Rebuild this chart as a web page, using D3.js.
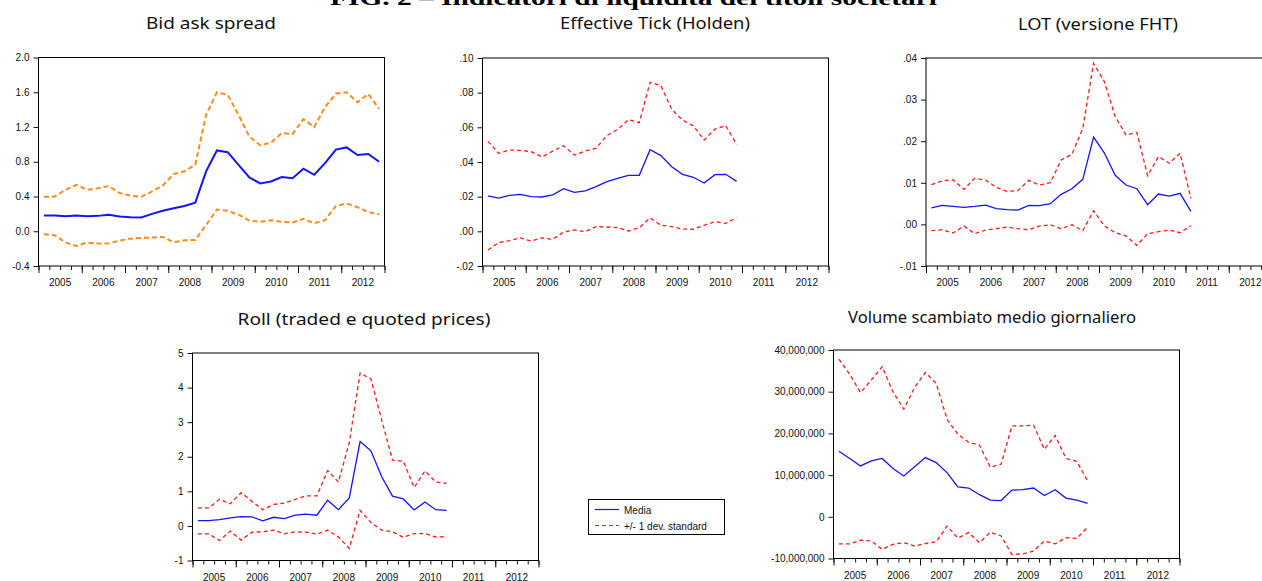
<!DOCTYPE html>
<html>
<head>
<meta charset="utf-8">
<script src="https://cdn.jsdelivr.net/npm/d3@7"></script>
<style>
  body { margin: 0; background: #fff; }
  svg { display: block; }
  .tick text { font-family: "Liberation Sans", Arial, sans-serif; font-size: 10px; fill: #111; }
  .tick line { stroke: #111; }
</style>
</head>
<body>
<svg id="chart" width="1262" height="581"></svg>
<script>
// Quarterly observations, 2005Q1 onwards
const years = ["2005", "2006", "2007", "2008", "2009", "2010", "2011", "2012"];

// Bid ask spread (2005Q1–2012Q4)
const bidAskMean  = [0.18, 0.18, 0.173, 0.18, 0.173, 0.177, 0.19, 0.17, 0.16, 0.158, 0.20, 0.235, 0.265, 0.29, 0.33, 0.69,
                     0.93, 0.91, 0.765, 0.62, 0.55, 0.573, 0.623, 0.61, 0.72, 0.65, 0.785, 0.94, 0.965, 0.877, 0.89, 0.80];
const bidAskUpper = [0.396, 0.40, 0.477, 0.535, 0.477, 0.496, 0.52, 0.44, 0.41, 0.396, 0.458, 0.527, 0.658, 0.69, 0.765, 1.34,
                     1.60, 1.57, 1.34, 1.09, 0.99, 1.02, 1.13, 1.12, 1.29, 1.20, 1.43, 1.585, 1.60, 1.485, 1.58, 1.41];
const bidAskLower = [-0.035, -0.046, -0.13, -0.17, -0.13, -0.142, -0.138, -0.108, -0.085, -0.077, -0.073, -0.065, -0.127, -0.104, -0.10, 0.073,
                     0.25, 0.235, 0.19, 0.123, 0.11, 0.127, 0.108, 0.10, 0.142, 0.092, 0.127, 0.29, 0.32, 0.277, 0.22, 0.196];
const bidAskTicks = [-0.4, 0.0, 0.4, 0.8, 1.2, 1.6, 2.0];

// Effective Tick (Holden) (2005Q1–2010Q4)
const tickMean  = [0.0204, 0.0192, 0.0208, 0.0213, 0.0200, 0.0198, 0.0210, 0.0246, 0.0225, 0.0233, 0.0258, 0.0287,
                   0.0306, 0.0323, 0.0323, 0.0471, 0.0437, 0.0373, 0.0329, 0.0312, 0.0279, 0.0327, 0.0329, 0.0288];
const tickUpper = [0.0519, 0.0450, 0.0469, 0.0467, 0.0460, 0.0429, 0.0463, 0.0494, 0.0440, 0.0463, 0.0479, 0.0552,
                   0.0588, 0.0644, 0.0627, 0.0860, 0.0840, 0.0704, 0.0642, 0.0608, 0.0527, 0.0590, 0.0610, 0.0502];
const tickLower = [-0.0108, -0.0065, -0.0054, -0.0038, -0.0056, -0.0038, -0.0046, -0.0004, 0.0008, -0.0002, 0.0027, 0.0025,
                   0.0021, 0.0002, 0.0021, 0.0077, 0.0035, 0.0027, 0.0013, 0.0012, 0.0035, 0.0056, 0.0046, 0.0079];
const tickTicks = [-0.02, 0.00, 0.02, 0.04, 0.06, 0.08, 0.10];

// LOT (versione FHT) (2005Q1–2011Q1)
const lotMean  = [0.0040, 0.00457, 0.00433, 0.0041, 0.00433, 0.00465, 0.00377, 0.00353, 0.00345, 0.00457, 0.0045, 0.00497,
                  0.00722, 0.00858, 0.01083, 0.0210, 0.01716, 0.01179, 0.00946, 0.00858, 0.00473, 0.0073, 0.00682, 0.00746, 0.00313];
const lotUpper = [0.00954, 0.01042, 0.01075, 0.00842, 0.01107, 0.01067, 0.0089, 0.00794, 0.0081, 0.01059, 0.00946, 0.01002,
                  0.01548, 0.01684, 0.0231, 0.0387, 0.0343, 0.0259, 0.0215, 0.0221, 0.0117, 0.0163, 0.0147, 0.0171, 0.00625];
const lotLower = [-0.00152, -0.00128, -0.00208, -0.0004, -0.00224, -0.00136, -0.00104, -0.00064, -0.00104, -0.00128, -0.0004, -0.00008,
                  -0.00104, -0.00008, -0.00152, 0.00329, -0.0004, -0.002, -0.00273, -0.00505, -0.00224, -0.00176, -0.00136, -0.002, -0.00032];
const lotTicks = [-0.01, 0.00, 0.01, 0.02, 0.03, 0.04];

// Roll (traded e quoted prices) (2005Q1–2010Q4)
const rollMean  = [0.154, 0.154, 0.183, 0.231, 0.27, 0.26, 0.145, 0.25, 0.212, 0.31, 0.34, 0.31,
                   0.743, 0.47, 0.81, 2.44, 2.17, 1.42, 0.86, 0.78, 0.46, 0.69, 0.47, 0.45];
const rollUpper = [0.52, 0.52, 0.77, 0.64, 0.96, 0.71, 0.47, 0.62, 0.66, 0.77, 0.87, 0.87,
                   1.60, 1.27, 2.41, 4.42, 4.25, 3.06, 1.90, 1.87, 1.11, 1.59, 1.27, 1.23];
const rollLower = [-0.23, -0.23, -0.42, -0.15, -0.41, -0.18, -0.17, -0.12, -0.23, -0.17, -0.18, -0.24,
                   -0.125, -0.32, -0.65, 0.45, 0.10, -0.125, -0.17, -0.33, -0.22, -0.22, -0.32, -0.31];
const rollTicks = [-1, 0, 1, 2, 3, 4, 5];

// Volume scambiato medio giornaliero (2005Q1–2010Q4)
const volMean  = [15.7e6, 14.0e6, 12.2e6, 13.4e6, 14.0e6, 11.6e6, 9.8e6, 12.0e6, 14.2e6, 13.0e6, 10.6e6, 7.2e6,
                  6.9e6, 5.3e6, 4.0e6, 3.9e6, 6.4e6, 6.5e6, 6.9e6, 5.1e6, 6.5e6, 4.5e6, 4.0e6, 3.2e6];
const volUpper = [37.8e6, 34.2e6, 29.8e6, 32.8e6, 36.0e6, 30.0e6, 25.8e6, 31.0e6, 34.6e6, 32.0e6, 23.4e6, 19.8e6,
                  17.9e6, 17.2e6, 11.9e6, 12.6e6, 21.8e6, 21.8e6, 22.0e6, 16.2e6, 19.5e6, 14.0e6, 13.3e6, 8.6e6];
const volLower = [-6.5e6, -6.5e6, -5.6e6, -5.8e6, -7.8e6, -6.6e6, -6.2e6, -7.0e6, -6.4e6, -6.0e6, -2.2e6, -5.1e6,
                  -3.8e6, -6.2e6, -3.7e6, -4.6e6, -9.0e6, -8.9e6, -8.2e6, -5.8e6, -6.5e6, -5.0e6, -5.2e6, -2.5e6];
const volTicks = [-10e6, 0, 10e6, 20e6, 30e6, 40e6];

const legendLabels = ["Media", "+/- 1 dev. standard"];

// Number formats with an ASCII hyphen for negatives
const loc = d3.formatLocale({ decimal: ".", thousands: ",", grouping: [3], currency: ["", ""], minus: "-" });
const fmt1 = loc.format(".1f");
const fmtDot = v => loc.format(".2f")(v).replace("0.", ".");
const fmtInt = loc.format("d");
const fmtComma = loc.format(",");

const NQ = years.length * 4;   // quarters on the time axis

const panels = [
  { title: "Bid ask spread", mean: bidAskMean, upper: bidAskUpper, lower: bidAskLower,
    domain: [-0.4, 2.0], ticks: bidAskTicks, fmt: fmt1,
    left: 38.5, top: 57.5, width: 346, height: 208.5,
    titleX: 211, titleY: 29, titleLen: 130,
    meanColor: "#1414ff", bandColor: "#ff8c1a", lineW: 2, dash: "5,3" },
  { title: "Effective Tick (Holden)", mean: tickMean, upper: tickUpper, lower: tickLower,
    domain: [-0.02, 0.10], ticks: tickTicks, fmt: fmtDot,
    left: 482.5, top: 58, width: 346, height: 208,
    titleX: 655, titleY: 29, titleLen: 190,
    meanColor: "#1414ff", bandColor: "#ff1a1a", lineW: 1.3, dash: "4,3" },
  { title: "LOT (versione FHT)", mean: lotMean, upper: lotUpper, lower: lotLower,
    domain: [-0.01, 0.04], ticks: lotTicks, fmt: fmtDot,
    left: 926, top: 58, width: 346, height: 208,
    titleX: 1098, titleY: 29.5, titleLen: 160,
    meanColor: "#1414ff", bandColor: "#ff1a1a", lineW: 1.3, dash: "4,3" },
  { title: "Roll (traded e quoted prices)", mean: rollMean, upper: rollUpper, lower: rollLower,
    domain: [-1, 5], ticks: rollTicks, fmt: fmtInt,
    left: 192.5, top: 353, width: 346, height: 207.5,
    titleX: 364, titleY: 324.5, titleLen: 253,
    meanColor: "#1414ff", bandColor: "#ff1a1a", lineW: 1.3, dash: "4,3" },
  { title: "Volume scambiato medio giornaliero", mean: volMean, upper: volUpper, lower: volLower,
    domain: [-10e6, 40e6], ticks: volTicks, fmt: fmtComma,
    left: 833.5, top: 350, width: 346, height: 208.5,
    titleX: 992, titleY: 322.5, titleLen: 288,
    meanColor: "#1414ff", bandColor: "#ff1a1a", lineW: 1.3, dash: "4,3" }
];

const svg = d3.select("#chart");

// Figure heading (sits partly above the top edge)
svg.append("text")
  .attr("x", 330).attr("y", 4.5)
  .attr("textLength", 607).attr("lengthAdjust", "spacingAndGlyphs")
  .style("font-family", "'Liberation Serif', 'Times New Roman', serif")
  .style("font-weight", "bold").style("font-size", "22px").style("fill", "#000")
  .text("FIG. 2 \u2013 Indicatori di liquidit\u00e0 dei titoli societari");

panels.forEach(p => {
  const g = svg.append("g");
  const x = d3.scaleLinear().domain([0, NQ]).range([p.left, p.left + p.width]);
  const y = d3.scaleLinear().domain(p.domain).range([p.top + p.height, p.top]);
  const bottom = p.top + p.height;

  // panel title
  g.append("text")
    .attr("x", p.titleX).attr("y", p.titleY)
    .attr("text-anchor", "middle")
    .attr("textLength", p.titleLen).attr("lengthAdjust", "spacingAndGlyphs")
    .style("font-family", "'Noto Sans', 'DejaVu Sans', sans-serif")
    .style("font-size", "17px").style("fill", "#111")
    .text(p.title);

  // left axis
  const ya = g.append("g").attr("transform", `translate(${p.left},0)`)
    .call(d3.axisLeft(y).tickValues(p.ticks).tickFormat(p.fmt).tickSize(5).tickPadding(4));
  ya.select(".domain").remove();

  // quarter ticks and year ticks along the bottom
  const xm = g.append("g").attr("transform", `translate(0,${bottom})`)
    .call(d3.axisBottom(x).tickValues(d3.range(0, NQ + 1)).tickFormat("").tickSize(4));
  xm.select(".domain").remove();
  const xM = g.append("g").attr("transform", `translate(0,${bottom})`)
    .call(d3.axisBottom(x).tickValues(d3.range(0, NQ + 1, 4)).tickFormat("").tickSize(7));
  xM.select(".domain").remove();

  g.selectAll("text.year").data(years).join("text")
    .attr("class", "year")
    .attr("x", (d, i) => x(i * 4 + 2)).attr("y", bottom + 20)
    .attr("text-anchor", "middle")
    .style("font-family", "'Liberation Sans', Arial, sans-serif")
    .style("font-size", "10px").style("fill", "#111")
    .text(d => d);

  // series
  const line = d3.line().x((d, i) => x(i + 0.5)).y(d => y(d));
  [p.upper, p.lower].forEach(s => {
    g.append("path").datum(s).attr("d", line)
      .attr("fill", "none").attr("stroke", p.bandColor)
      .attr("stroke-width", p.lineW).attr("stroke-dasharray", p.dash);
  });
  g.append("path").datum(p.mean).attr("d", line)
    .attr("fill", "none").attr("stroke", p.meanColor).attr("stroke-width", p.lineW);

  // frame
  g.append("rect")
    .attr("x", p.left).attr("y", p.top).attr("width", p.width).attr("height", p.height)
    .attr("fill", "none").attr("stroke", "#000").attr("stroke-width", 1);
});

// Legend
const lg = svg.append("g");
lg.append("rect").attr("x", 588.5).attr("y", 499.5).attr("width", 136).attr("height", 35)
  .attr("fill", "#fff").attr("stroke", "#000").attr("stroke-width", 1);
const legendStyles = [
  { color: "#1414ff", dash: null },
  { color: "#ff1a1a", dash: "4,3" }
];
legendLabels.forEach((lab, i) => {
  const yy = 509.5 + i * 16;
  lg.append("line").attr("x1", 595).attr("x2", 619).attr("y1", yy).attr("y2", yy)
    .attr("stroke", legendStyles[i].color).attr("stroke-width", 1.2)
    .attr("stroke-dasharray", legendStyles[i].dash);
  lg.append("text").attr("x", 624).attr("y", yy + 4)
    .style("font-family", "'Liberation Sans', Arial, sans-serif")
    .style("font-size", "10px").style("fill", "#111")
    .text(lab);
});
</script>
</body>
</html>
